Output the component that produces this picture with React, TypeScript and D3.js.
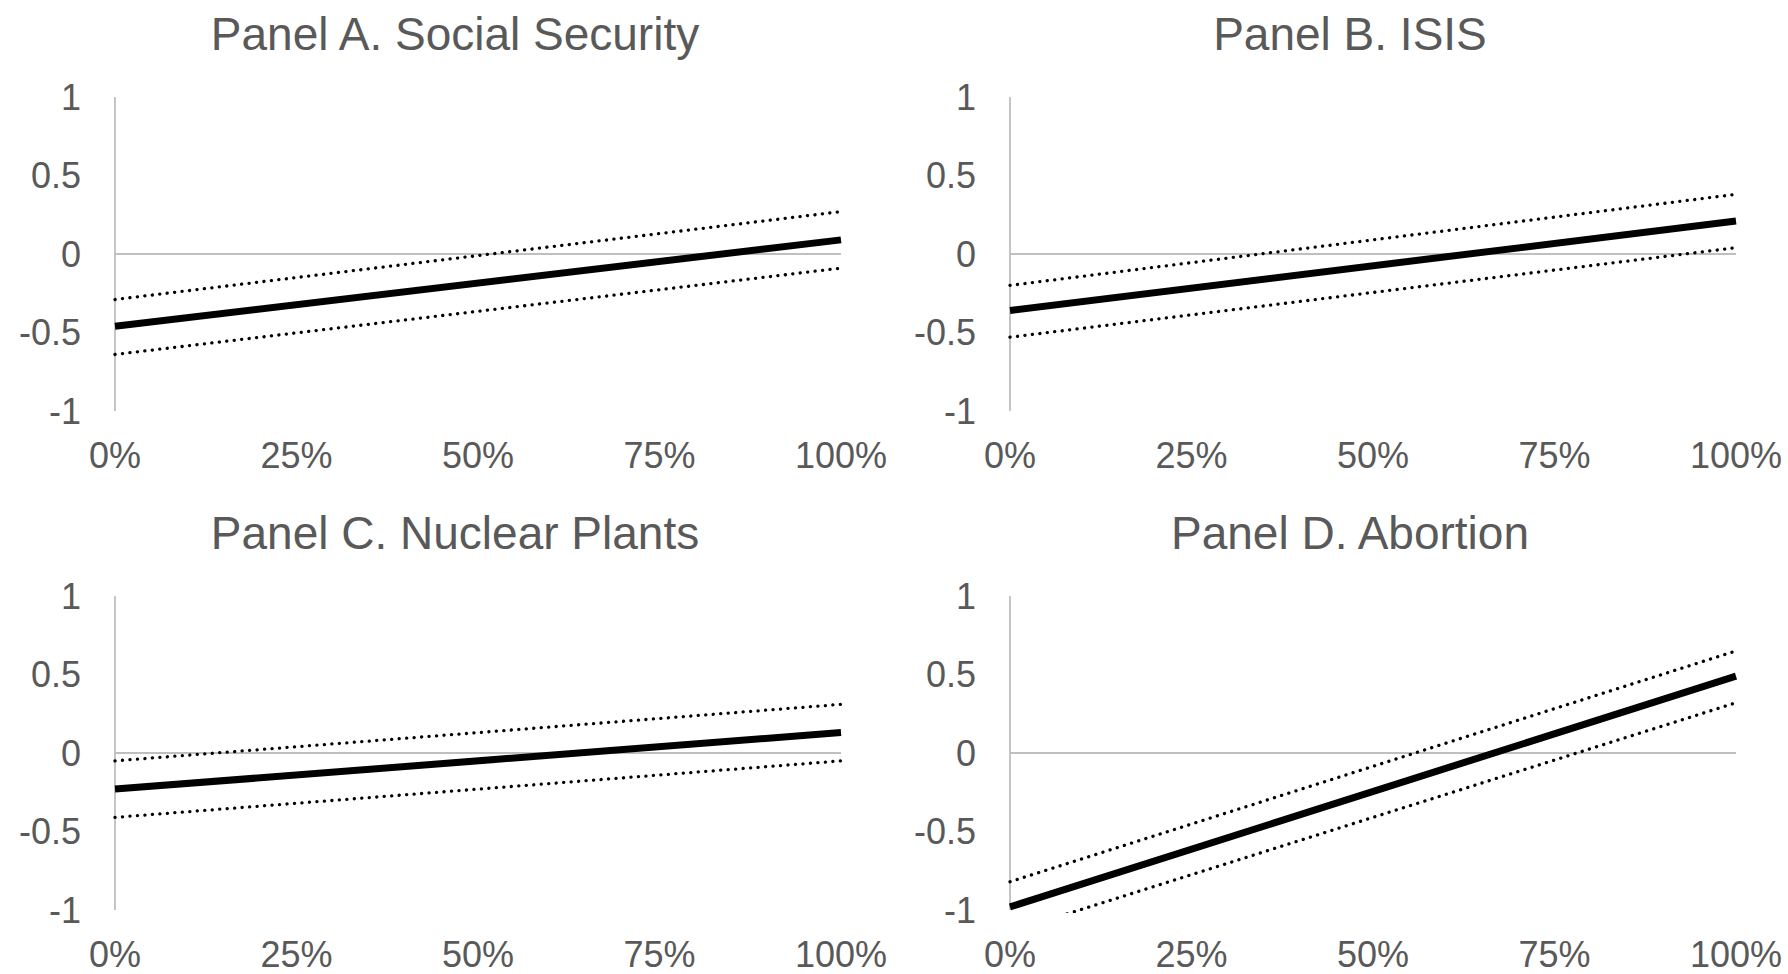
import React from "react";
import * as d3 from "d3";

const panelTitles = [
  "Panel A. Social Security",
  "Panel B. ISIS",
  "Panel C. Nuclear Plants",
  "Panel D. Abortion",
];
const xValues = [0, 1];
const estimate = [
  [-0.46, 0.09],
  [-0.36, 0.21],
  [-0.23, 0.13],
  [-0.98, 0.49],
];
const upperBound = [
  [-0.29, 0.27],
  [-0.2, 0.38],
  [-0.05, 0.31],
  [-0.82, 0.65],
];
const lowerBound = [
  [-0.64, -0.09],
  [-0.53, 0.04],
  [-0.41, -0.05],
  [-1.14, 0.32],
];
const yTicks = [-1, -0.5, 0, 0.5, 1];
const yTickLabels = ["-1", "-0.5", "0", "0.5", "1"];
const xTicks = [0, 0.25, 0.5, 0.75, 1];
const xTickLabels = ["0%", "25%", "50%", "75%", "100%"];

const W = 1788;
const H = 974;
const FONT = "'Liberation Sans', Arial, sans-serif";
const TEXT = "#595959";
const AXIS = "#bfbfbf";

// layout of each panel (plot area)
const layouts = [
  { x0: 115, x1: 841, yTop: 97, yBot: 411, titleY: 50, labelY: 468 },
  { x0: 1010, x1: 1736, yTop: 97, yBot: 411, titleY: 50, labelY: 468 },
  { x0: 115, x1: 841, yTop: 596, yBot: 910, titleY: 549, labelY: 967 },
  { x0: 1010, x1: 1736, yTop: 596, yBot: 910, titleY: 549, labelY: 967 },
];

function Panel({ i }: { i: number }) {
  const L = layouts[i];
  const x = d3.scaleLinear().domain([0, 1]).range([L.x0, L.x1]);
  const y = d3.scaleLinear().domain([-1, 1]).range([L.yBot, L.yTop]);
  const line = d3
    .line<number>()
    .x((_, k) => x(xValues[k]))
    .y((v) => y(v));
  const clipId = `clip-${i}`;
  return (
    <g>
      <defs>
        <clipPath id={clipId}>
          <rect x={L.x0 - 5} y={L.yTop - 10} width={L.x1 - L.x0 + 10} height={L.yBot - L.yTop + 13} />
        </clipPath>
      </defs>
      <text
        x={(L.x0 + L.x1) / 2 - 23}
        y={L.titleY}
        textAnchor="middle"
        fontFamily={FONT}
        fontSize={46}
        fill={TEXT}
      >
        {panelTitles[i]}
      </text>
      {/* y axis */}
      <line x1={x(0)} x2={x(0)} y1={y(1)} y2={y(-1)} stroke={AXIS} strokeWidth={1.8} />
      {/* zero line */}
      <line x1={x(0)} x2={x(1)} y1={y(0)} y2={y(0)} stroke={AXIS} strokeWidth={1.8} />
      {yTicks.map((t, k) => (
        <text
          key={"y" + k}
          x={x(0) - 34}
          y={y(t)}
          dy="0.36em"
          textAnchor="end"
          fontFamily={FONT}
          fontSize={36}
          fill={TEXT}
        >
          {yTickLabels[k]}
        </text>
      ))}
      {xTicks.map((t, k) => (
        <text
          key={"x" + k}
          x={x(t)}
          y={L.labelY}
          textAnchor="middle"
          fontFamily={FONT}
          fontSize={36}
          fill={TEXT}
        >
          {xTickLabels[k]}
        </text>
      ))}
      <g clipPath={`url(#${clipId})`}>
        <path
          d={line(upperBound[i]) || ""}
          fill="none"
          stroke="#000"
          strokeWidth={3.3}
          strokeLinecap="round"
          strokeDasharray="0.1 7.4"
        />
        <path
          d={line(lowerBound[i]) || ""}
          fill="none"
          stroke="#000"
          strokeWidth={3.3}
          strokeLinecap="round"
          strokeDasharray="0.1 7.4"
        />
        <path d={line(estimate[i]) || ""} fill="none" stroke="#000" strokeWidth={7} />
      </g>
    </g>
  );
}

export default function App() {
  return (
    <svg
      width={W}
      height={H}
      style={{ position: "absolute", left: 0, top: 0, background: "#fff" }}
    >
      <rect x={0} y={0} width={W} height={H} fill="#fff" />
      {panelTitles.map((_, i) => (
        <Panel key={i} i={i} />
      ))}
    </svg>
  );
}
